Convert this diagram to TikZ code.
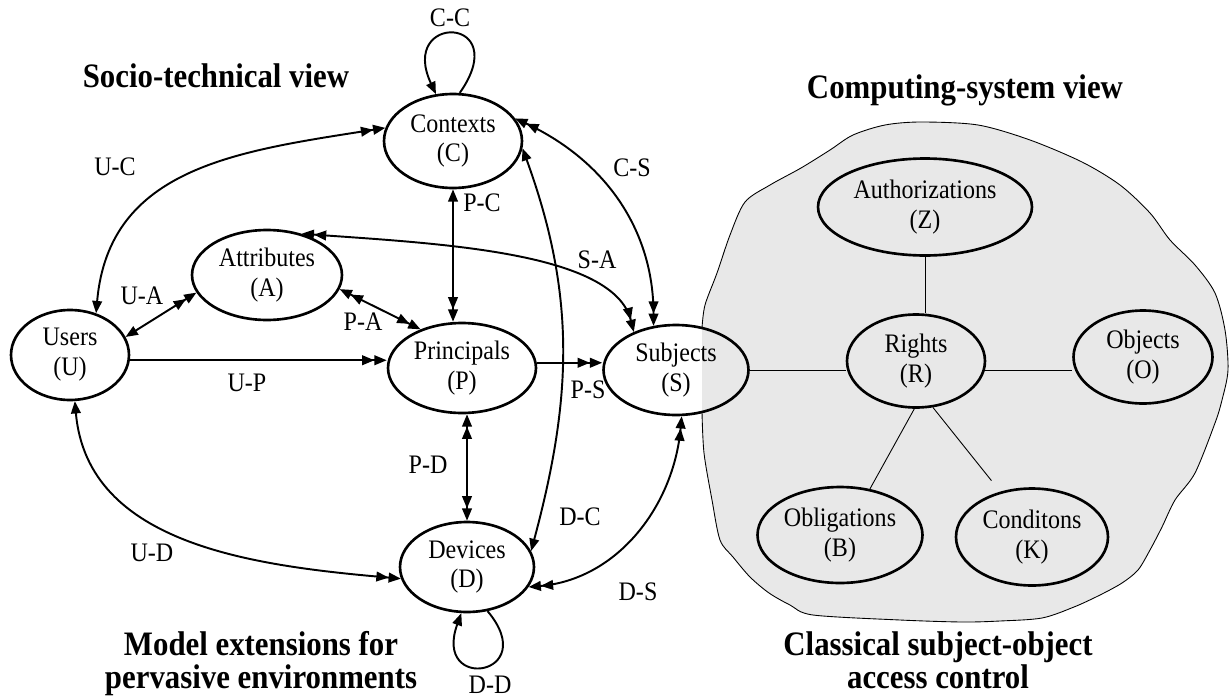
\documentclass[tikz,border=0pt]{standalone}
\usepackage{fontspec}
\setmainfont{Liberation Serif}[FakeStretch=0.9]
\usepackage{tikz}
\usetikzlibrary{shapes.geometric, arrows.meta}

\newcommand{\nodefont}{\fontsize{15.2}{17}\selectfont}
\newcommand{\titlefont}{\fontsize{19.5}{18.8}\selectfont\bfseries}

\tikzset{
  one/.tip={Triangle[length=7pt,width=5.5pt]},
  many/.tip={Triangle[length=7pt,width=5.5pt,sep=0pt] Triangle[length=7pt,width=5.5pt]},
  ent/.style={ellipse, draw, line width=1.5pt, align=center, inner sep=0pt, font=\nodefont},
  link/.style={line width=1.1pt},
  plain/.style={line width=0.5pt},
  lbl/.style={font=\nodefont, inner sep=1pt},
  title/.style={font=\titlefont, inner sep=0pt, align=center},
}

\begin{document}
\begin{tikzpicture}[x=0.02cm, y=0.02cm]
  \useasboundingbox (0,0) rectangle (1230,698);

  % grey area behind the classical model
  \filldraw[fill=gray!18, draw=black, line width=0.5pt] plot[smooth] coordinates {
    (702,370) (705,393) (717,425) (730,463) (745,496) (770,513) (801,530)
    (830,548) (853,563) (885,573) (921,576) (978,573) (1030,558) (1082,536)
    (1120,513) (1150,485) (1170,458) (1195,433) (1215,405) (1225,368)
    (1228,328) (1222,298) (1215,275) (1195,225) (1175,198) (1162,171)
    (1150,148) (1138,128) (1122,115) (1100,103) (1074,91) (1042,80)
    (1000,77) (962,76) (900,78) (813,83) (790,93) (769,105) (750,121)
    (733,141) (720,158) (712,198) (704,245) (702,286)};

  % titles
  \node[title, anchor=base] (socio) at (216,611) {Socio-technical view};
  \node[title, anchor=base] (comp) at (965,600) {Computing-system view};
  \node[title, anchor=north] (ext) at (261,67) {Model extensions for\\pervasive environments};
  \node[title, anchor=north] (classic) at (938,67) {Classical subject-object\\access control};

  % socio-technical entities
  \node[ent, minimum width=2.76cm, minimum height=1.88cm] (C) at (453,557) {Contexts\\(C)};
  \node[ent, minimum width=3.0cm, minimum height=1.8cm] (A) at (267,423) {Attributes\\(A)};
  \node[ent, minimum width=2.36cm, minimum height=1.8cm] (U) at (70,343) {Users\\(U)};
  \node[ent, minimum width=2.96cm, minimum height=1.8cm] (P) at (462,330) {Principals\\(P)};
  \node[ent, minimum width=2.9cm, minimum height=1.8cm] (S) at (676,328) {Subjects\\(S)};
  \node[ent, minimum width=2.68cm, minimum height=1.8cm] (D) at (467,131) {Devices\\(D)};

  % computing-system entities
  \node[ent, minimum width=4.28cm, minimum height=1.94cm] (Z) at (925,491) {Authorizations\\(Z)};
  \node[ent, minimum width=2.76cm, minimum height=1.86cm] (R) at (916,337) {Rights\\(R)};
  \node[ent, minimum width=2.78cm, minimum height=1.86cm] (O) at (1143,341) {Objects\\(O)};
  \node[ent, minimum width=3.3cm, minimum height=1.92cm] (B) at (840,163) {Obligations\\(B)};
  \node[ent, minimum width=3.04cm, minimum height=1.94cm] (K) at (1032,161) {Conditons\\(K)};

  % relations
  \draw[link, one-many] (U.58) to[out=85, in=189, looseness=1.1] (C.169);
  \draw[link, one-many] (U.18) -- (A.194);
  \draw[link, many-many] (A.349) -- (P.137);
  \draw[link, -many] (U.-5) -- (U.-5 -| P.west);
  \draw[link, -many] (P.4) -- (P.4 -| S.west);
  \draw[link, one-many] (C.south) -- (C.south |- P.north);
  \draw[link, many-many] (D.north |- P.south) -- (D.north);
  \draw[link, many-many] (A.50) .. controls +(140,-10) and +(-20,80) .. (S.138);
  \draw[link, many-many] (C.20) to[out=-25, in=90] (S.117);
  \draw[link, one-one] (C.-6) to[out=-70, in=75] (D.14);
  \draw[link, many-many] (S.-83) to[out=-95, in=5] (D.-18);
  \draw[link, one-many] (U.-84) to[out=-85, in=175] (D.190);
  \draw[link, -one] (C.82) .. controls +(55:95) and +(115:90) .. (C.110);
  \draw[link, -one] (D.-65) .. controls +(-50:85) and +(-110:85) .. (D.-97);

  \draw[plain] (S.east) -- (S.east -| R.west);
  \draw[plain] (Z.south) -- (Z.south |- R.north);
  \draw[plain] (R.-8) -- (R.-8 -| O.west);
  \draw[plain] (R.-92) -- (B.57);
  \draw[plain, shorten >=8pt] (R.-70) -- (K.125);

  % relation labels
  \node[lbl] (lCC) at (450,680) {C-C};
  \node[lbl] (lUC) at (115,531) {U-C};
  \node[lbl] (lUA) at (142,402) {U-A};
  \node[lbl] (lPA) at (363,376) {P-A};
  \node[lbl] (lPC) at (482,495) {P-C};
  \node[lbl] (lSA) at (597,438) {S-A};
  \node[lbl] (lCS) at (632,530) {C-S};
  \node[lbl] (lUP) at (247,315) {U-P};
  \node[lbl] (lPS) at (588,308) {P-S};
  \node[lbl] (lPD) at (428,233) {P-D};
  \node[lbl] (lDC) at (580,181) {D-C};
  \node[lbl] (lUD) at (152,145) {U-D};
  \node[lbl] (lDS) at (638,106) {D-S};
  \node[lbl] (lDD) at (490,13) {D-D};
\end{tikzpicture}
\end{document}
